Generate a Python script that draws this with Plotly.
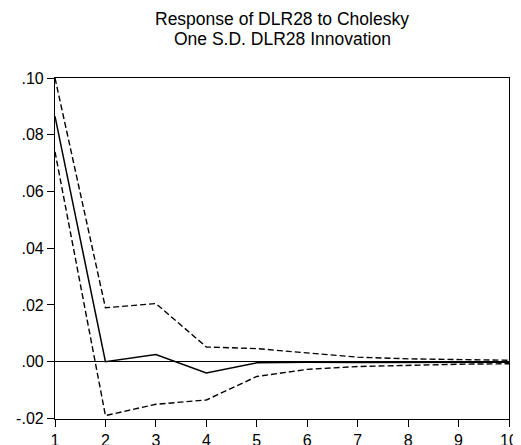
import plotly.graph_objects as go

periods = [1, 2, 3, 4, 5, 6, 7, 8, 9, 10]
response = [0.0865, 0.0000, 0.0025, -0.0040, -0.0004, -0.0002, -0.0003, -0.0003, -0.0002, -0.0002]
upper = [0.1000, 0.0190, 0.0205, 0.0052, 0.0046, 0.0030, 0.0016, 0.0010, 0.0008, 0.0005]
lower = [0.0740, -0.0190, -0.0150, -0.0135, -0.0052, -0.0027, -0.0017, -0.0012, -0.0009, -0.0007]

ytick_vals = [-0.02, 0.00, 0.02, 0.04, 0.06, 0.08, 0.10]
ytick_text = ["-.02", ".00", ".02", ".04", ".06", ".08", ".10"]

title_lines = ["Response of DLR28 to Cholesky", "One S.D. DLR28 Innovation"]

fig = go.Figure()
fig.add_trace(go.Scatter(x=periods, y=upper, mode="lines",
                         line=dict(color="black", width=1.4, dash="6px,3px")))
fig.add_trace(go.Scatter(x=periods, y=lower, mode="lines",
                         line=dict(color="black", width=1.4, dash="6px,3px")))
fig.add_trace(go.Scatter(x=periods, y=response, mode="lines",
                         line=dict(color="black", width=1.5)))

for txt, yy in zip(title_lines, [1.173, 1.114]):
    fig.add_annotation(text=txt, xref="paper", yref="paper", x=0.5, y=yy,
                       xanchor="center", yanchor="middle", showarrow=False,
                       font=dict(size=17.5, family="Liberation Sans, Arial", color="black"))

fig.update_layout(
    width=513, height=437,
    margin=dict(l=47, r=12, t=70, b=26, autoexpand=False),
    paper_bgcolor="white", plot_bgcolor="white",
    showlegend=False,
    font=dict(family="Liberation Sans, Arial", color="black", size=16),
    xaxis=dict(range=[1, 10], tickvals=periods, ticks="outside", ticklen=7,
               tickwidth=1.2, tickcolor="black", showline=True, linecolor="black",
               linewidth=1.2, mirror=True, showgrid=False, zeroline=False,
               tickfont=dict(size=16), automargin=False),
    yaxis=dict(range=[-0.0202, 0.1], tickvals=ytick_vals, ticktext=ytick_text,
               ticks="outside", ticklen=7, tickwidth=1.2, tickcolor="black",
               showline=True, linecolor="black", linewidth=1.2, mirror=True,
               showgrid=False, zeroline=True, zerolinecolor="black",
               zerolinewidth=1.2, tickfont=dict(size=16), automargin=False),
)

fig.write_html("out.html")
